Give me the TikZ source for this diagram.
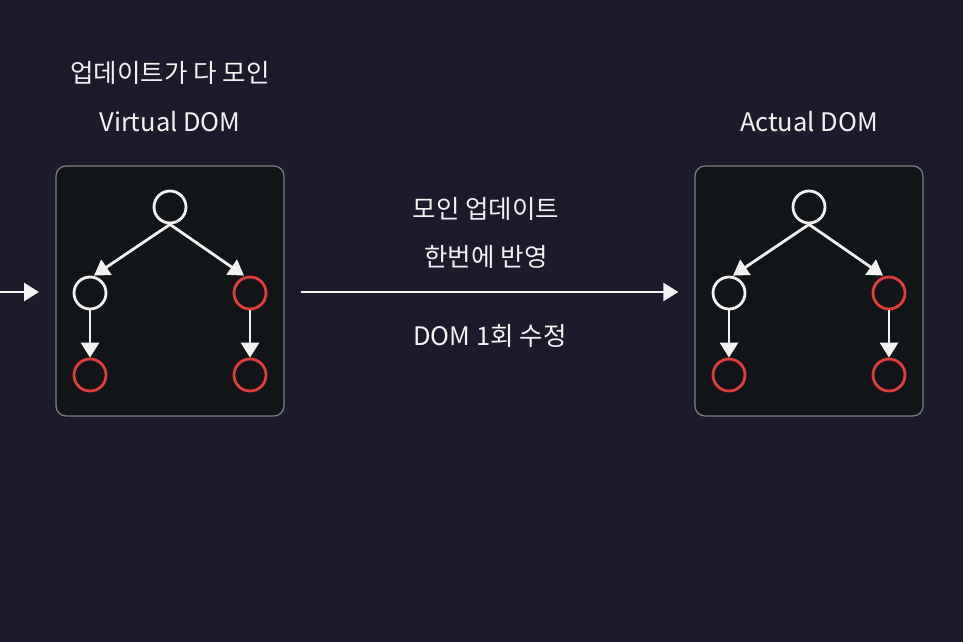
\documentclass[tikz,border=0pt]{standalone}
\usepackage{fontspec}
\setmainfont{Noto Sans CJK KR}
\usetikzlibrary{arrows.meta}
\definecolor{bg}{HTML}{1C1B2B}
\definecolor{boxfill}{HTML}{121517}
\definecolor{boxline}{HTML}{7F7F84}
\definecolor{chalk}{HTML}{F2F2F2}
\definecolor{chalkred}{HTML}{E23C3C}
\begin{document}
\begin{tikzpicture}[x=1pt,y=-1pt,
  panel/.style={draw=boxline,line width=1.2pt,fill=boxfill,rounded corners=10pt,minimum width=228pt,minimum height=250pt,inner sep=0pt},
  wnode/.style={circle,draw=chalk,line width=2.8pt,minimum size=32pt,inner sep=0pt},
  rnode/.style={circle,draw=chalkred,line width=2.8pt,minimum size=32pt,inner sep=0pt},
  link/.style={draw=chalk,line width=2.8pt,-{Triangle[width=18pt,length=15pt]}},
  lbl/.style={text=chalk,font=\fontsize{25.5pt}{30pt}\selectfont,inner sep=0pt}]
\fill[bg] (0,0) rectangle (963,642);
\useasboundingbox (0,0) rectangle (963,642);
% labels
\node[lbl] (t1) at (170,73) {업데이트가 다 모인};
\node[lbl] (t2) at (170,122) {Virtual DOM};
\node[lbl] (t3) at (809,122) {Actual DOM};
\node[lbl] (m1) at (486,209) {모인 업데이트};
\node[lbl] (m2) at (486,257) {한번에 반영};
\node[lbl] (m3) at (490,336) {DOM 1회 수정};
% panels
\node[panel] (vbox) at (170,291) {};
\node[panel] (abox) at (809,291) {};
% virtual tree
\node[wnode] (vr) at (170,207) {};
\node[wnode] (vl) at (90,293) {};
\node[rnode] (vrr) at (250,293) {};
\node[rnode] (vll) at (90,375) {};
\node[rnode] (vrb) at (250,375) {};
% actual tree
\node[wnode] (ar) at (809,207) {};
\node[wnode] (al) at (729,293) {};
\node[rnode] (arr) at (889,293) {};
\node[rnode] (all) at (729,375) {};
\node[rnode] (arb) at (889,375) {};
% tree links
\draw[link] (vr.south) -- ([xshift=4pt]vl.north);
\draw[link] (vr.south) -- ([xshift=-6pt]vrr.north);
\draw[link] (vl.south) -- (vll.north);
\draw[link] (vrr.south) -- (vrb.north);
\draw[link] (ar.south) -- ([xshift=4pt]al.north);
\draw[link] (ar.south) -- ([xshift=-6pt]arr.north);
\draw[link] (al.south) -- (all.north);
\draw[link] (arr.south) -- (arb.north);
% horizontal arrows
\coordinate (inS) at (0,292);
\coordinate (inE) at (39,292);
\draw[link,line width=2.4pt] (inS) -- (inE);
\draw[link,line width=2.4pt,shorten <=16pt,shorten >=16pt] (vbox.east |- 0,292) -- (abox.west |- 0,292);
\end{tikzpicture}
\end{document}
